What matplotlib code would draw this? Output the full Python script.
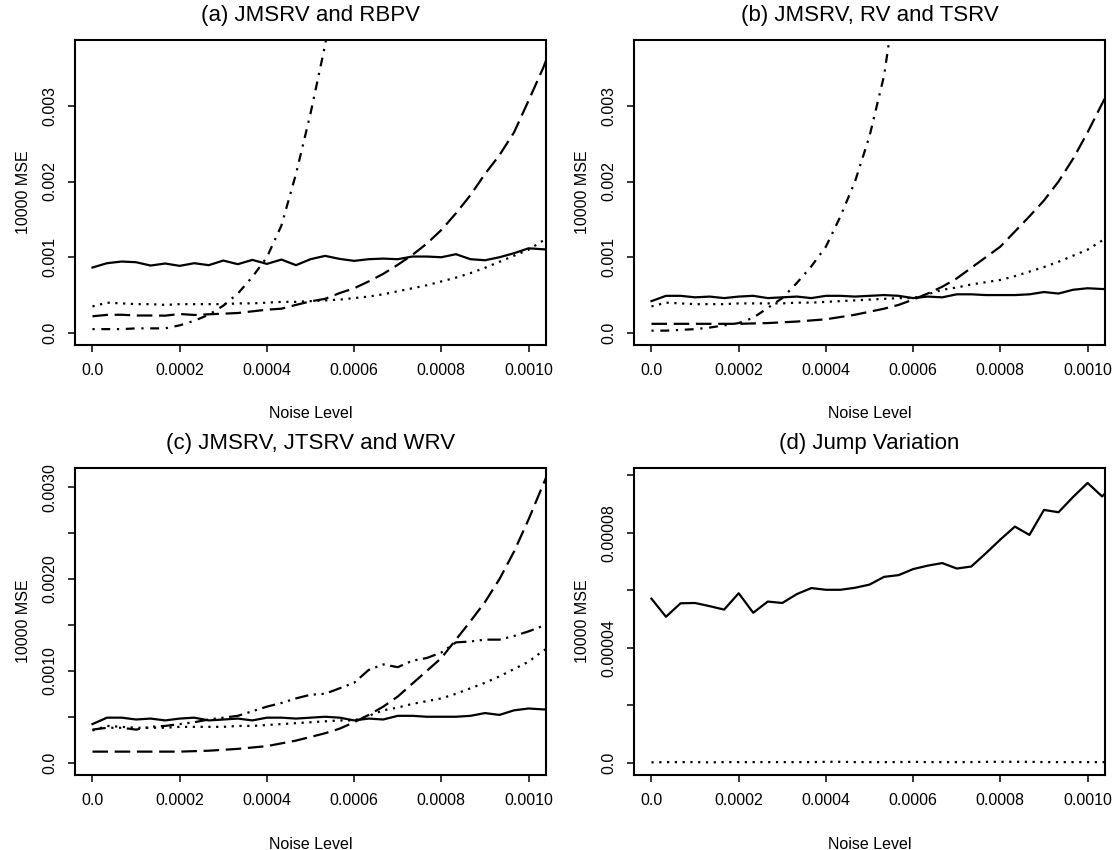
import matplotlib
matplotlib.use("Agg")
from matplotlib import pyplot as plt

plt.rcParams['font.family'] = ['Liberation Sans', 'DejaVu Sans']

# noise levels, step 1/30000
noise = [i / 30000.0 for i in range(33)]

# panel (a)
a_solid = [0.000864, 0.000921, 0.000943, 0.000934, 0.00089, 0.000917, 0.000886, 0.000921,
           0.000895, 0.000956, 0.000908, 0.000965, 0.000912, 0.000969, 0.000895, 0.000974,
           0.001018, 0.000978, 0.000952, 0.000974, 0.000982, 0.000974, 0.001009, 0.001009,
           0.001, 0.00104, 0.000974, 0.00096, 0.001, 0.001053, 0.001118, 0.001105, 0.0011]
a_dash = [0.00022, 0.000238, 0.00024, 0.00023, 0.00023, 0.000228, 0.00025, 0.000237,
          0.000246, 0.000254, 0.000263, 0.000285, 0.000307, 0.00032, 0.00037, 0.000417,
          0.00045, 0.000526, 0.00059, 0.00068, 0.00078, 0.0009, 0.00103, 0.00118,
          0.00136, 0.00158, 0.00182, 0.0021, 0.00235, 0.00265, 0.00307, 0.0035, 0.004]
a_dot = [0.00035, 0.0004, 0.00039, 0.00038, 0.00038, 0.00037, 0.00038, 0.00038,
         0.00038, 0.00038, 0.00039, 0.00039, 0.0004, 0.00041, 0.00041, 0.00042,
         0.00043, 0.00044, 0.00046, 0.00048, 0.00051, 0.00055, 0.00059, 0.00063,
         0.00068, 0.00073, 0.00079, 0.00086, 0.00094, 0.00102, 0.0011, 0.00122, 0.00132]
a_dashdot = [0.00005, 0.00005, 0.00005, 0.00006, 0.00006, 0.00006, 0.0001, 0.00016,
             0.00024, 0.00036, 0.00052, 0.00074, 0.001, 0.00142, 0.0021, 0.0029,
             0.0038, 0.0049]

# panel (b)
b_solid = [0.00042, 0.00049, 0.00049, 0.00047, 0.00048, 0.00046, 0.00048, 0.00049,
           0.00046, 0.00047, 0.00048, 0.00046, 0.00049, 0.00049, 0.00048, 0.00049,
           0.0005, 0.00049, 0.00046, 0.00048, 0.00047, 0.00051, 0.00051, 0.0005,
           0.0005, 0.0005, 0.00051, 0.00054, 0.00052, 0.00057, 0.00059, 0.00058, 0.00058]
b_dash = [0.00012, 0.00012, 0.00012, 0.00012, 0.00012, 0.00012, 0.00012, 0.000125,
          0.00013, 0.00014, 0.00015, 0.000165, 0.00018, 0.00021, 0.00024, 0.00028,
          0.00032, 0.00037, 0.00044, 0.00052, 0.00061, 0.00072, 0.00086, 0.001,
          0.00114, 0.00134, 0.00154, 0.00175, 0.002, 0.0023, 0.00265, 0.00303, 0.0034]
b_dot = [0.00035, 0.0004, 0.00039, 0.00038, 0.00038, 0.00038, 0.00039, 0.00039,
         0.00039, 0.00039, 0.0004, 0.0004, 0.00041, 0.00042, 0.00043, 0.00044,
         0.00045, 0.00046, 0.00046, 0.00051, 0.00057, 0.0006, 0.00064, 0.00067,
         0.0007, 0.00075, 0.00081, 0.00087, 0.00094, 0.00102, 0.0011, 0.00122, 0.0013]
b_dashdot = [0.00003, 0.00003, 0.00004, 0.00005, 0.00007, 0.0001, 0.00013, 0.0002,
             0.00033, 0.00046, 0.00066, 0.00088, 0.00114, 0.00154, 0.002, 0.0026,
             0.0034, 0.0047]

# panel (c)
c_solid = b_solid
c_dash = b_dash
c_dot = b_dot
c_wrv = [0.00036, 0.00038, 0.00038, 0.00036, 0.00039, 0.0004, 0.00042, 0.00044,
         0.00047, 0.00049, 0.00051, 0.00056, 0.00061, 0.00065, 0.0007, 0.00074,
         0.00075, 0.00081, 0.00087, 0.00101, 0.00107, 0.00104, 0.00111, 0.00114,
         0.0012, 0.00131, 0.00132, 0.00134, 0.00134, 0.00138, 0.00143, 0.00149, 0.0015]

# panel (d)
d_solid = [5.71e-5, 5.08e-5, 5.55e-5, 5.56e-5, 5.45e-5, 5.33e-5, 5.9e-5, 5.22e-5,
           5.61e-5, 5.56e-5, 5.87e-5, 6.08e-5, 6.02e-5, 6.02e-5, 6.09e-5, 6.2e-5,
           6.47e-5, 6.53e-5, 6.74e-5, 6.86e-5, 6.95e-5, 6.76e-5, 6.83e-5, 7.29e-5,
           7.77e-5, 8.22e-5, 7.93e-5, 8.8e-5, 8.72e-5, 9.25e-5, 9.74e-5, 9.27e-5, 9.8e-5]
d_dot = [1e-7, 2e-7, 2e-7, 2e-7, 1e-7, 2e-7, 2e-7, 2e-7,
         2e-7, 2e-7, 2e-7, 2e-7, 3e-7, 3e-7, 2e-7, 2e-7,
         2e-7, 2e-7, 3e-7, 2e-7, 2e-7, 2e-7, 2e-7, 3e-7,
         3e-7, 3e-7, 3e-7, 2e-7, 2e-7, 2e-7, 2e-7, 2e-7, 2e-7]

xticks = [0.0, 0.0002, 0.0004, 0.0006, 0.0008, 0.001]
xtick_labels = ["0.0", "0.0002", "0.0004", "0.0006", "0.0008", "0.0010"]

LW = 1.6
styles = {
	"solid": dict(linestyle="-"),
	"dash": dict(linestyle=(0, (7, 3))),
	"dot": dict(linestyle=(0, (1, 2.5))),
	"dashdot": dict(linestyle=(0, (1, 3, 4, 3))),
	"dashdotdot": dict(linestyle=(0, (6, 2.5, 1, 2.5, 1, 2.5))),
}


def draw_panel(ax, title, series, ylim, yticks, ylabels):
	for values, style in series:
		ax.plot(noise[:len(values)], values, color="black", lw=LW, **styles[style])
	ax.set_xlim(-0.00004, 0.00104)
	ax.set_ylim(*ylim)
	ax.set_xticks(xticks)
	ax.set_xticklabels(xtick_labels)
	ax.set_yticks(yticks)
	ax.set_yticklabels(ylabels, rotation=90, va="center")
	ax.tick_params(direction="out", length=5, width=1.1, labelsize=11.5, pad=8)
	ax.tick_params(axis="y", pad=8)
	for sp in ax.spines.values():
		sp.set_linewidth(1.5)
	ax.set_title(title, fontsize=16, y=1.08, pad=0, va="center")
	ax.set_xlabel("Noise Level", fontsize=11.5, va="center")
	ax.xaxis.set_label_coords(0.5, -0.225)
	ax.set_ylabel("10000 MSE", fontsize=11.5, va="center")
	ax.yaxis.set_label_coords(-0.11, 0.5)


fig = plt.figure(figsize=(11.18, 8.5), dpi=100)
ax_a = fig.add_axes([0.0671, 0.5941, 0.4213, 0.3588])
ax_b = fig.add_axes([0.5671, 0.5941, 0.4213, 0.3588])
ax_c = fig.add_axes([0.0671, 0.0882, 0.4213, 0.3612])
ax_d = fig.add_axes([0.5671, 0.0882, 0.4213, 0.3612])

ab_ticks = [0.0, 0.001, 0.002, 0.003]
ab_labels = ["0.0", "0.001", "0.002", "0.003"]

draw_panel(ax_a, "(a) JMSRV and RBPV",
	[(a_solid, "solid"), (a_dash, "dash"), (a_dot, "dot"), (a_dashdot, "dashdot")],
	(-0.00016, 0.00387), ab_ticks, ab_labels)
draw_panel(ax_b, "(b) JMSRV, RV and TSRV",
	[(b_solid, "solid"), (b_dash, "dash"), (b_dot, "dot"), (b_dashdot, "dashdot")],
	(-0.00016, 0.00387), ab_ticks, ab_labels)
draw_panel(ax_c, "(c) JMSRV, JTSRV and WRV",
	[(c_solid, "solid"), (c_dash, "dash"), (c_dot, "dot"), (c_wrv, "dashdotdot")],
	(-0.000135, 0.00321),
	[0.0, 0.0005, 0.001, 0.0015, 0.002, 0.0025, 0.003],
	["0.0", "", "0.0010", "", "0.0020", "", "0.0030"])
draw_panel(ax_d, "(d) Jump Variation",
	[(d_solid, "solid"), (d_dot, "dot")],
	(-0.0000043, 0.0001026),
	[0.0, 0.00002, 0.00004, 0.00006, 0.00008, 0.0001],
	["0.0", "", "0.00004", "", "0.00008", ""])

fig.savefig("out.png", dpi=100)
